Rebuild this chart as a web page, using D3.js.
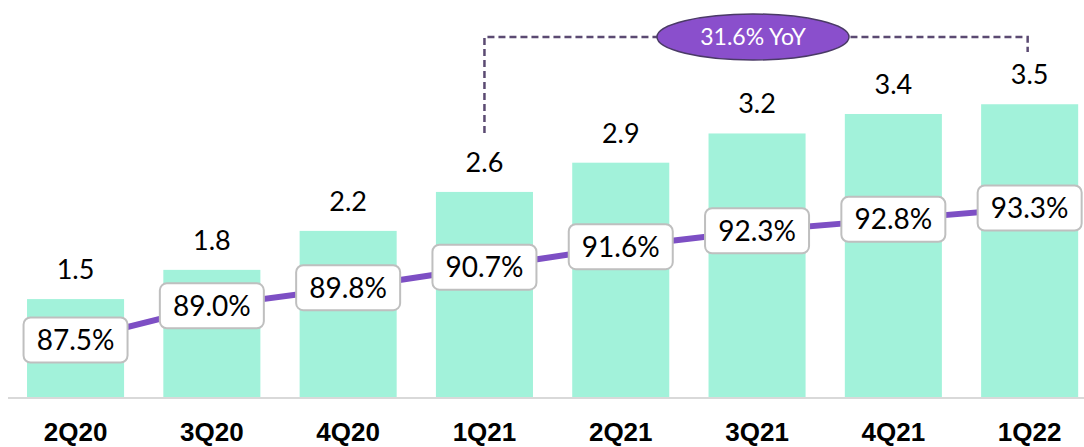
<!DOCTYPE html>
<html>
<head>
<meta charset="utf-8">
<script src="https://cdn.jsdelivr.net/npm/d3@7"></script>
<style>
  html, body { margin: 0; padding: 0; background: #fff; }
  svg { display: block; }
</style>
</head>
<body>
<svg id="chart" width="1084" height="447"></svg>
<script>
const quarters = ["2Q20", "3Q20", "4Q20", "1Q21", "2Q21", "3Q21", "4Q21", "1Q22"];
const volumes = [1.5, 1.8, 2.2, 2.6, 2.9, 3.2, 3.4, 3.5];
const shares = [87.5, 89.0, 89.8, 90.7, 91.6, 92.3, 92.8, 93.3];
const yoyLabel = "31.6% YoY";

const svg = d3.select("#chart");
const width = 1084;
const baseY = 397;
const numFont = "Lato, 'Open Sans', sans-serif";

const x = d3.scaleBand().domain(quarters).range([7.4, 1097.8])
    .paddingInner(0.288).paddingOuter(0.144);
const y = d3.scaleLinear().domain([0.495, 4.57]).range([baseY, 0]);
const yPct = d3.scaleLinear().domain([80, 95]).range([510.7, 169.3]);

// Bars
svg.append("g").selectAll("rect")
    .data(volumes)
    .enter()
    .append("rect")
    .attr("x", (d, i) => x(quarters[i]))
    .attr("y", d => y(d))
    .attr("width", x.bandwidth())
    .attr("height", d => baseY - y(d))
    .attr("fill", "#a2f2da");

// baseline
svg.append("line")
    .attr("x1", 8).attr("x2", width)
    .attr("y1", baseY + 1).attr("y2", baseY + 1)
    .attr("stroke", "#d9d9d9").attr("stroke-width", 2);

// Bar value labels
svg.append("g").selectAll("text")
    .data(volumes)
    .enter()
    .append("text")
    .attr("x", (d, i) => x(quarters[i]) + x.bandwidth() / 2)
    .attr("y", d => y(d) - 20)
    .attr("text-anchor", "middle")
    .attr("font-family", numFont)
    .attr("font-size", "27px")
    .attr("fill", "#000")
    .text(d => d.toFixed(1));

// X axis labels
svg.append("g").selectAll("text")
    .data(quarters)
    .enter()
    .append("text")
    .attr("x", d => x(d) + x.bandwidth() / 2)
    .attr("y", 441)
    .attr("text-anchor", "middle")
    .attr("font-family", "'Liberation Sans', Arial, sans-serif")
    .attr("font-weight", "bold")
    .attr("font-size", "26px")
    .attr("fill", "#000")
    .text(d => d);

// Share line
const line = d3.line()
    .x((d, i) => x(quarters[i]) + x.bandwidth() / 2)
    .y(d => yPct(d));
svg.append("path")
    .datum(shares)
    .attr("d", line)
    .attr("fill", "none")
    .attr("stroke", "#7d4fc4")
    .attr("stroke-width", 6);

// Share label boxes
const boxW = 104, boxH = 45;
const boxes = svg.append("g").selectAll("g")
    .data(shares)
    .enter()
    .append("g")
    .attr("transform", (d, i) => `translate(${x(quarters[i]) + x.bandwidth() / 2},${yPct(d)})`);
boxes.append("rect")
    .attr("x", -boxW / 2).attr("y", -boxH / 2)
    .attr("width", boxW).attr("height", boxH)
    .attr("rx", 7)
    .attr("fill", "#fff")
    .attr("stroke", "#bfbfbf")
    .attr("stroke-width", 2);
boxes.append("text")
    .attr("text-anchor", "middle")
    .attr("dy", "0.36em")
    .attr("font-family", numFont)
    .attr("font-size", "28px")
    .attr("fill", "#000")
    .text(d => d.toFixed(1) + "%");

// YoY annotation bracket
const xl = x("1Q21") + x.bandwidth() / 2;
const xr = x("1Q22") + x.bandwidth() / 2 - 2;
const topY = 37;
svg.append("path")
    .attr("d", `M${xl},133 V${topY} H${xr} V52`)
    .attr("fill", "none")
    .attr("stroke", "#5b4a72")
    .attr("stroke-width", 2.5)
    .attr("stroke-dasharray", "7,4");

svg.append("ellipse")
    .attr("cx", 753).attr("cy", topY)
    .attr("rx", 96).attr("ry", 23)
    .attr("fill", "#8a4fcc")
    .attr("stroke", "#4a3a66")
    .attr("stroke-width", 1.5);
svg.append("text")
    .attr("x", 753).attr("y", topY)
    .attr("dy", "0.36em")
    .attr("text-anchor", "middle")
    .attr("font-family", numFont)
    .attr("font-size", "23px")
    .attr("fill", "#fff")
    .text(yoyLabel);
</script>
</body>
</html>
